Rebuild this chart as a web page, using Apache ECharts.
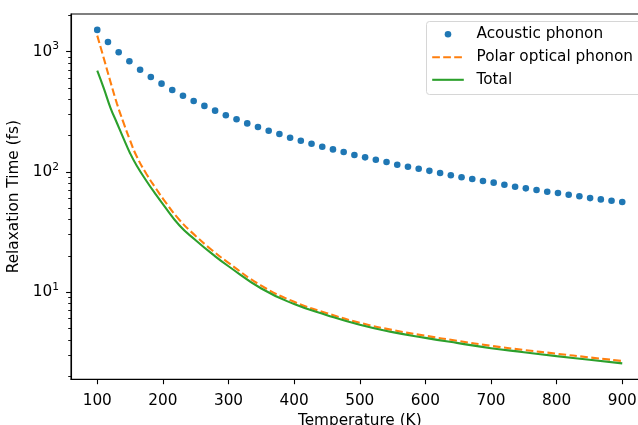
<!DOCTYPE html>
<html>
<head>
<meta charset="utf-8">
<script src="https://cdn.jsdelivr.net/npm/echarts@6/dist/echarts.min.js"></script>
<style>
  html, body { margin: 0; padding: 0; background: #ffffff; overflow: hidden; }
  /* the plot frame runs a little past the right edge of the page */
  #chart { width: 650px; height: 425px; }
</style>
</head>
<body>
<div id="chart"></div>
<script>
// Temperatures (K) of the acoustic-phonon samples
const acousticT = [
  100, 116.33, 132.65, 148.98, 165.31, 181.63, 197.96, 214.29, 230.61, 246.94,
  263.27, 279.59, 295.92, 312.24, 328.57, 344.90, 361.22, 377.55, 393.88, 410.20,
  426.53, 442.86, 459.18, 475.51, 491.84, 508.16, 524.49, 540.82, 557.14, 573.47,
  589.80, 606.12, 622.45, 638.78, 655.10, 671.43, 687.76, 704.08, 720.41, 736.73,
  753.06, 769.39, 785.71, 802.04, 818.37, 834.69, 851.02, 867.35, 883.67, 900
];
// Acoustic phonon relaxation time (fs)
const acousticTau = [
  1517, 1204, 989, 832, 708, 616, 542, 480, 430, 389,
  354, 323, 296, 274, 253, 236, 220, 206.5, 192, 181.5,
  171.4, 161.8, 153.8, 146.2, 138, 132, 126.2, 120.7, 114.7, 110.4,
  106.2, 102, 97.8, 93.6, 90.1, 87.2, 83.9, 81.3, 78.2, 75.2,
  72.9, 70.6, 68.4, 66.7, 64.5, 62.6, 60.5, 59.0, 57.5, 56.1
];
// Temperatures (K) for the continuous curves
const curveT = [100, 110, 120, 130, 140, 150, 160, 175, 190, 200, 225, 250, 275,
                300, 350, 400, 450, 500, 550, 600, 650, 700, 750, 800, 850, 900];
// Polar optical phonon relaxation time (fs)
const polarTau = [1360, 880, 565, 370, 257, 183, 135, 96, 72, 60, 40, 29.3, 22.3,
                  17.5, 11.3, 8.3, 6.67, 5.56, 4.83, 4.33, 3.92, 3.57, 3.30, 3.07, 2.86, 2.67];
// Total relaxation time (fs)
const totalTau = [695, 495, 343, 255, 190, 143, 113, 84, 64, 54, 36, 27, 20.8,
                  16.4, 10.7, 7.95, 6.42, 5.34, 4.64, 4.16, 3.76, 3.41, 3.16, 2.93, 2.73, 2.55];

const seriesNames = ['Acoustic phonon', 'Polar optical phonon', 'Total'];
const xTicks = [100, 200, 300, 400, 500, 600, 700, 800, 900];
const yMajorTicks = [10, 100, 1000];
const yMinorTicks = [2, 3, 4, 5, 6, 7, 8, 9, 20, 30, 40, 50, 60, 70, 80, 90,
                     200, 300, 400, 500, 600, 700, 800, 900, 2000];

const FONT = 'DejaVu Sans';
const FS = 15.3;
const COLORS = ['#1f77b4', '#ff7f0e', '#2ca02c'];
const DASH = [7.7, 3.3];

const pairs = (xs, ys) => xs.map((x, i) => [x, ys[i]]);
const Y_MIN = 1.88, Y_MAX = 2058;

const chart = echarts.init(document.getElementById('chart'), null, { renderer: 'canvas' });

const option = {
  animation: false,
  backgroundColor: '#ffffff',
  grid: {
    left: 71, top: 14, right: 1.5, bottom: 45.7,
    outerBoundsMode: 'none', containLabel: false,
    show: true, borderColor: '#000000', borderWidth: 1.1, backgroundColor: 'transparent'
  },
  xAxis: {
    type: 'value', min: 60, max: 940,
    splitLine: { show: false },
    axisLine: { show: true, onZero: false, lineStyle: { color: '#000', width: 1.1 } },
    axisTick: { show: true, length: 4.9, customValues: xTicks, lineStyle: { color: '#000', width: 1.1 } },
    axisLabel: { customValues: xTicks, color: '#000', fontFamily: FONT, fontSize: FS, margin: 14.5 },
    name: 'Temperature (K)', nameLocation: 'middle', nameGap: 33,
    nameTextStyle: { color: '#000', fontFamily: FONT, fontSize: FS }
  },
  yAxis: [
    {
      type: 'log', logBase: 10, min: Y_MIN, max: Y_MAX, position: 'left',
      splitLine: { show: false },
      axisLine: { show: true, lineStyle: { color: '#000', width: 1.1 } },
      axisTick: { show: true, length: 4.9, customValues: yMajorTicks, lineStyle: { color: '#000', width: 1.1 } },
      minorTick: { show: false },
      axisLabel: {
        customValues: yMajorTicks, margin: 12, color: '#000',
        formatter: v => '{b|10}{s|' + Math.round(Math.log10(v)) + '}',
        rich: {
          b: { fontFamily: FONT, fontSize: FS, color: '#000', lineHeight: 21 },
          s: { fontFamily: FONT, fontSize: 10.7, color: '#000', verticalAlign: 'top', lineHeight: 13 }
        }
      },
      name: 'Relaxation Time (fs)', nameLocation: 'middle', nameGap: 39,
      nameTextStyle: { color: '#000', fontFamily: FONT, fontSize: FS }
    },
    {
      // minor log ticks (2..9 of each decade)
      type: 'log', logBase: 10, min: Y_MIN, max: Y_MAX, position: 'left', offset: 0,
      splitLine: { show: false },
      axisLine: { show: false },
      axisTick: { show: true, length: 2.8, customValues: yMinorTicks, lineStyle: { color: '#000', width: 0.9 } },
      axisLabel: { show: false }
    }
  ],
  series: [
    {
      name: seriesNames[0], type: 'scatter', yAxisIndex: 0,
      data: pairs(acousticT, acousticTau),
      symbol: 'circle', symbolSize: 6.6,
      itemStyle: { color: COLORS[0], opacity: 1 }
    },
    {
      name: seriesNames[1], type: 'line', yAxisIndex: 0,
      data: pairs(curveT, polarTau),
      showSymbol: false, symbol: 'none', smooth: 0.5,
      lineStyle: { color: COLORS[1], width: 2.1, type: DASH }
    },
    {
      name: seriesNames[2], type: 'line', yAxisIndex: 0,
      data: pairs(curveT, totalTau),
      showSymbol: false, symbol: 'none', smooth: 0.5,
      lineStyle: { color: COLORS[2], width: 2.1 }
    }
  ],
  graphic: [
    {
      type: 'group', left: 426, top: 21,
      children: [
        { type: 'rect', shape: { x: 0, y: 0, width: 240, height: 73, r: 3 },
          style: { fill: 'rgba(255,255,255,0.8)', stroke: '#d6d6d6', lineWidth: 1 } },
        { type: 'circle', shape: { cx: 21.5, cy: 12.7, r: 3.3 }, style: { fill: COLORS[0] } },
        { type: 'line', shape: { x1: 5.7, y1: 35.7, x2: 37.3, y2: 35.7 },
          style: { stroke: COLORS[1], lineWidth: 2.1, lineDash: DASH } },
        { type: 'line', shape: { x1: 5.7, y1: 58.3, x2: 37.3, y2: 58.3 },
          style: { stroke: COLORS[2], lineWidth: 2.1 } },
        { type: 'text', x: 50, y: 12.7,
          style: { text: seriesNames[0], fill: '#000', font: FS + 'px "DejaVu Sans"', verticalAlign: 'middle', align: 'left' } },
        { type: 'text', x: 50, y: 35.7,
          style: { text: seriesNames[1], fill: '#000', font: FS + 'px "DejaVu Sans"', verticalAlign: 'middle', align: 'left' } },
        { type: 'text', x: 50, y: 58.3,
          style: { text: seriesNames[2], fill: '#000', font: FS + 'px "DejaVu Sans"', verticalAlign: 'middle', align: 'left' } }
      ]
    }
  ]
};

chart.setOption(option);
</script>
</body>
</html>
